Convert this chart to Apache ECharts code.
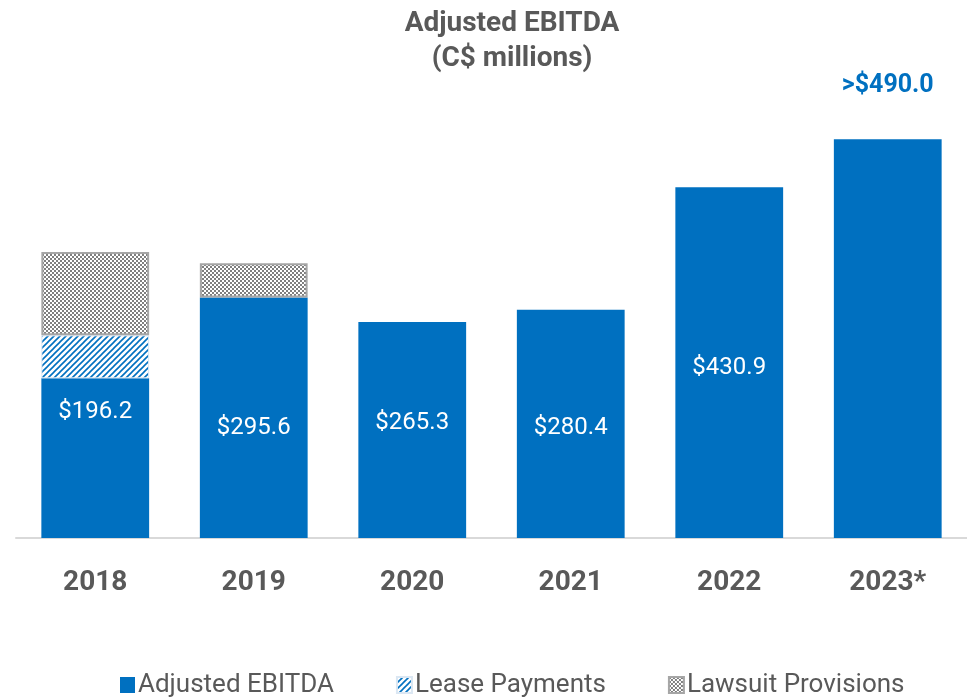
<!DOCTYPE html>
<html>
<head>
<meta charset="utf-8">
<script src="https://cdn.jsdelivr.net/npm/echarts@6/dist/echarts.min.js"></script>
<style>
  html, body { margin: 0; padding: 0; background: #fff; }
  #chart { width: 967px; height: 698px; }
</style>
</head>
<body>
<div id="chart"></div>
<script>
// data
const years = ['2018', '2019', '2020', '2021', '2022', '2023*'];
const ebitda = [196.2, 295.6, 265.3, 280.4, 430.9, 490.0];
const leasePayments = [52.8, null, null, null, null, null];
const lawsuitProvisions = [102.3, 42.0, null, null, null, null];

const BLUE = '#0070C0';
const GREY = '#595959';
const FONT = 'Roboto, "Liberation Sans", sans-serif';

// hatch fill: blue diagonal lines on white
function makeHatch() {
  const c = document.createElement('canvas');
  c.width = 6; c.height = 6;
  const g = c.getContext('2d');
  g.fillStyle = '#fff';
  g.fillRect(0, 0, 6, 6);
  g.strokeStyle = BLUE;
  g.lineWidth = 1.6;
  g.beginPath();
  g.moveTo(-1, 7); g.lineTo(7, -1);
  g.moveTo(-1, 1); g.lineTo(1, -1);
  g.moveTo(5, 7); g.lineTo(7, 5);
  g.stroke();
  return c;
}

// checker fill: grey / white 2px squares
function makeChecker() {
  const c = document.createElement('canvas');
  c.width = 4; c.height = 4;
  const g = c.getContext('2d');
  g.fillStyle = '#fff';
  g.fillRect(0, 0, 4, 4);
  g.fillStyle = '#7f7f7f';
  g.fillRect(0, 0, 2, 2);
  g.fillRect(2, 2, 2, 2);
  return c;
}

const chart = echarts.init(document.getElementById('chart'));

const option = {
  animation: false,
  title: {
    text: 'Adjusted EBITDA\n(C$ millions)',
    left: 507,
    top: 1,
    textAlign: 'center',
    textStyle: { fontFamily: FONT, fontSize: 28, fontWeight: 'bold', color: GREY, lineHeight: 35 }
  },
  legend: {
    top: 667,
    left: 115,
    icon: 'rect',
    itemWidth: 15,
    itemHeight: 16,
    itemGap: 62,
    textStyle: { fontFamily: FONT, fontSize: 26, color: GREY, padding: [0, 0, 0, -2] },
    data: ['Adjusted EBITDA', 'Lease Payments', 'Lawsuit Provisions']
  },
  grid: { left: 16, right: 0, top: 131, bottom: 160 },
  xAxis: {
    type: 'category',
    data: years,
    axisLine: { lineStyle: { color: '#d9d9d9', width: 2 } },
    axisTick: { show: false },
    axisLabel: { fontFamily: FONT, fontSize: 28, fontWeight: 'bold', color: GREY, margin: 31 }
  },
  yAxis: {
    type: 'value',
    min: 0,
    max: 500,
    show: false,
    splitLine: { show: false }
  },
  series: [
    {
      name: 'Adjusted EBITDA',
      type: 'bar',
      stack: 'total',
      barWidth: '68%',
      itemStyle: { color: BLUE },
      label: {
        show: true,
        position: 'inside',
        color: '#fff',
        fontFamily: FONT,
        fontSize: 24,
        formatter: p => '$' + p.value.toFixed(1)
      },
      data: ebitda.map((v, i) => {
        const dy = [-46, 10, -7, 4, 5][i];
        if (i === ebitda.length - 1) {
          return {
            value: v,
            label: {
              position: 'top',
              distance: 41,
              color: BLUE,
              fontWeight: 'bold',
              fontSize: 25,
              formatter: p => '>$' + p.value.toFixed(1)
            }
          };
        }
        return { value: v, label: { offset: [0, dy] } };
      })
    },
    {
      name: 'Lease Payments',
      type: 'bar',
      stack: 'total',
      itemStyle: { color: { image: makeHatch(), repeat: 'repeat' }, borderColor: '#dbe7f3', borderWidth: 1 },
      data: leasePayments
    },
    {
      name: 'Lawsuit Provisions',
      type: 'bar',
      stack: 'total',
      itemStyle: { color: { image: makeChecker(), repeat: 'repeat' }, borderColor: '#a6a6a6', borderWidth: 2 },
      data: lawsuitProvisions
    }
  ]
};

chart.setOption(option);
</script>
</body>
</html>
